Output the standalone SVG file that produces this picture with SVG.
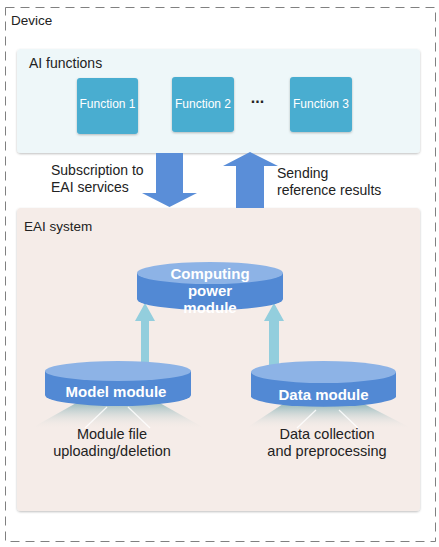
<svg xmlns="http://www.w3.org/2000/svg" width="439" height="547" viewBox="0 0 439 547">
<style>
text{font-family:"Liberation Sans",Arial,sans-serif;fill:#222}
.lbl{font-size:14px}
.ttl{font-size:13.5px}
.fn{font-size:12px;fill:#fff;text-anchor:middle}
.cyl{font-size:15px;font-weight:bold;fill:#fff;text-anchor:middle}
.sub{font-size:14.5px;text-anchor:middle}
.side{fill:#5289d4}
.top{fill:#8db3e6}
.fnbox{fill:#4aadd0}
.big{fill:#5a8ed8}
.lite{fill:#93cedd}
.ray{stroke:#fff;stroke-width:1.2;opacity:0.85}
</style>
<defs>
<filter id="sh" x="-5%" y="-5%" width="110%" height="115%">
<feDropShadow dx="0" dy="1" stdDeviation="0.8" flood-color="#000" flood-opacity="0.25"/>
</filter>
<linearGradient id="beam" x1="0" y1="0" x2="0" y2="1">
<stop offset="0" stop-color="#8fb6ba" stop-opacity="0.95"/>
<stop offset="1" stop-color="#f5ece8" stop-opacity="0"/>
</linearGradient>
</defs>

<g id="device">
<rect x="5.5" y="7.5" width="430" height="534" fill="#fff" stroke="#808080" stroke-width="1" stroke-dasharray="9,6"/>
<text class="ttl" x="11" y="25">Device</text>
</g>

<g id="ai-functions">
<rect x="17" y="49" width="403" height="104" rx="4" fill="#eef7f9" filter="url(#sh)"/>
<text class="lbl" x="29" y="68">AI functions</text>
</g>
<g id="function1">
<rect class="fnbox" x="77" y="78" width="61" height="56" rx="3" filter="url(#sh)"/>
<text class="fn" x="107.5" y="108">Function 1</text>
</g>
<g id="function2">
<rect class="fnbox" x="172" y="77" width="62" height="55" rx="3" filter="url(#sh)"/>
<text class="fn" x="203" y="108">Function 2</text>
</g>
<g id="ellipsis">
<text x="257.5" y="103" font-size="16" font-weight="bold" text-anchor="middle">...</text>
</g>
<g id="function3">
<rect class="fnbox" x="290" y="77" width="62" height="55" rx="3" filter="url(#sh)"/>
<text class="fn" x="321" y="108">Function 3</text>
</g>

<g id="eai-system">
<rect x="17" y="208" width="403" height="303" rx="4" fill="#f5ece8" filter="url(#sh)"/>
<text class="ttl" x="24" y="231">EAI system</text>
</g>

<g id="connectors">
<polygon class="big" points="156,153 183,153 183,193 197,193 169.5,207 142,193 156,193"/>
<polygon class="big" points="236,208 236,166 223,166 250,152 278,166 264,166 264,208"/>
<text class="lbl" x="51" y="175">Subscription to</text>
<text class="lbl" x="51" y="192">EAI services</text>
<text class="lbl" x="277" y="178">Sending</text>
<text class="lbl" x="277" y="195">reference results</text>
<polygon class="lite" points="141,363 141,321 135,321 145,303 155,321 149,321 149,363"/>
<polygon class="lite" points="269,366 269,321 264,321 274,303 284,321 279,321 279,366"/>
</g>

<g id="computing-power-module">
<path class="side" d="M137,273 L137,299 A73,11 0 0 0 283,299 L283,273 Z"/>
<ellipse class="top" cx="210" cy="273" rx="73" ry="11"/>
<text class="cyl" x="210" y="279">Computing</text>
<text class="cyl" x="210" y="296">power</text>
<text class="cyl" x="210" y="313">module</text>
</g>

<g id="model-module">
<polygon points="78,402 158,402 206,429 30,429" fill="url(#beam)"/>
<line class="ray" x1="107" y1="407" x2="85" y2="428"/>
<line class="ray" x1="128" y1="407" x2="150" y2="428"/>
<path class="side" d="M45,371 L45,395 A73,11 0 0 0 191,395 L191,371 Z"/>
<ellipse class="top" cx="118" cy="371" rx="73" ry="10"/>
<text class="cyl" x="116" y="397">Model module</text>
<text class="sub" x="112" y="439">Module file</text>
<text class="sub" x="112" y="456">uploading/deletion</text>
</g>

<g id="data-module">
<polygon points="283,404 364,404 413,429 245,429" fill="url(#beam)"/>
<line class="ray" x1="316" y1="410" x2="297" y2="428"/>
<line class="ray" x1="339" y1="410" x2="358" y2="428"/>
<path class="side" d="M251,372 L251,397 A73,11 0 0 0 396,397 L396,372 Z"/>
<ellipse class="top" cx="323.5" cy="372" rx="72.5" ry="11"/>
<text class="cyl" x="323.5" y="400">Data module</text>
<text class="sub" x="327" y="439">Data collection</text>
<text class="sub" x="327" y="456">and preprocessing</text>
</g>
</svg>
